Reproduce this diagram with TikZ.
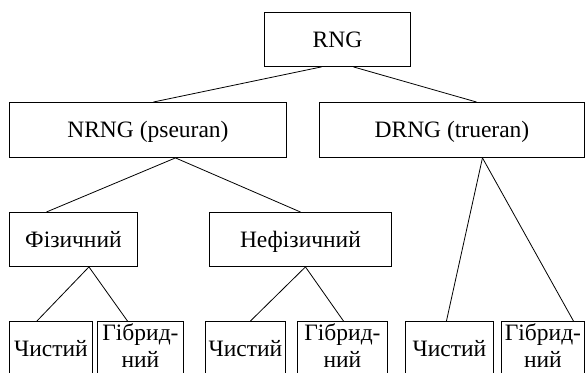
\documentclass[tikz,border=0pt]{standalone}
\usepackage{fontspec}
\setmainfont{Liberation Serif}
\begin{document}
\begin{tikzpicture}[x=1bp,y=-1bp,
  box/.style={draw=black, line width=0.9bp, anchor=north west, inner sep=0pt,
    minimum height=54bp, font=\fontsize{23.5bp}{27bp}\selectfont,
    text height=15.6bp, text depth=0bp},
  twoline/.style={align=center, text height=42.6bp, text depth=4bp},
  link/.style={line width=0.8bp}]
\useasboundingbox (0,0) rectangle (585,372);
\clip (0,0) rectangle (585,372);
% nodes
\node[box, minimum width=146bp] (rng) at (264,12) {RNG};
\node[box, minimum width=277bp, minimum height=55bp] (nrng) at (9,102) {NRNG (pseuran)};
\node[box, minimum width=265bp, minimum height=55bp] (drng) at (319,102) {DRNG (trueran)};
\node[box, minimum width=128bp] (fiz) at (9,212) {Фізичний};
\node[box, minimum width=182bp] (nefiz) at (209,212) {Нефізичний};
\node[box, minimum width=83bp] (c1) at (9,321) {Чистий};
\node[box, twoline, minimum width=86bp] (h1) at (97,321) {Гібрид-\\ний};
\node[box, minimum width=80bp] (c2) at (205,321) {Чистий};
\node[box, twoline, minimum width=90bp] (h2) at (297,321) {Гібрид-\\ний};
\node[box, minimum width=88bp] (c3) at (405,321) {Чистий};
\node[box, twoline, minimum width=83bp] (h3) at (501,321) {Гібрид-\\ний};
% connectors
\draw[link] ([xshift=-16bp]rng.south) -- ([xshift=5.5bp]nrng.north);
\draw[link] ([xshift=16bp]rng.south) -- ([xshift=24.5bp]drng.north);
\draw[link] ([xshift=27.5bp]nrng.south) -- ([xshift=-27bp]fiz.north);
\draw[link] ([xshift=27.5bp]nrng.south) -- (nefiz.north);
\draw[link] ([xshift=30.5bp]drng.south) -- ([xshift=-3bp]c3.north);
\draw[link] ([xshift=30.5bp]drng.south) -- ([xshift=30.5bp]h3.north);
\draw[link] ([xshift=15.5bp]fiz.south) -- ([xshift=-14bp]c1.north);
\draw[link] ([xshift=15.5bp]fiz.south) -- ([xshift=-13bp]h1.north);
\draw[link] ([xshift=5bp]nefiz.south) -- ([xshift=5bp]c2.north);
\draw[link] ([xshift=5bp]nefiz.south) -- ([xshift=1bp]h2.north);
\end{tikzpicture}
\end{document}
